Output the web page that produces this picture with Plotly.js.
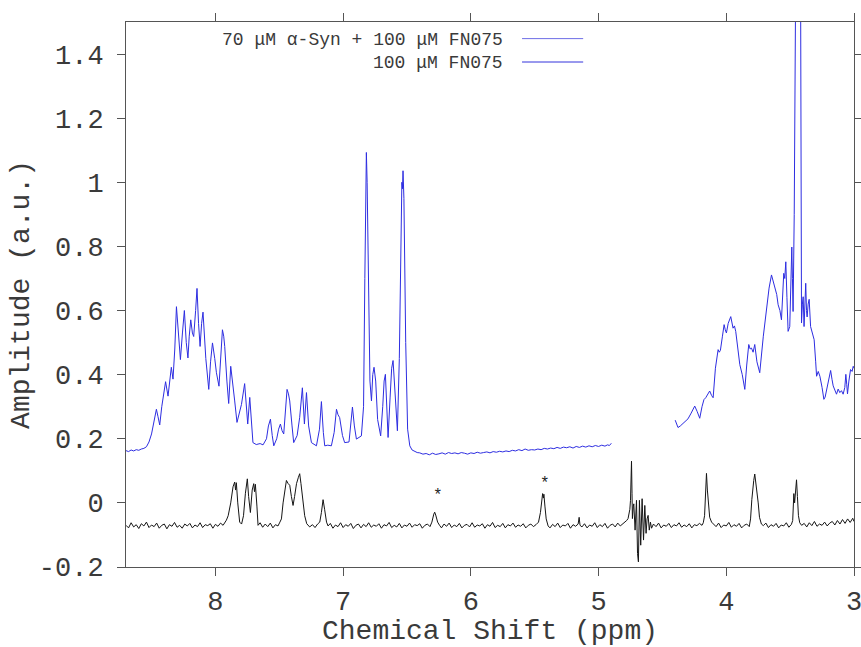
<!DOCTYPE html>
<html>
<head>
<meta charset="utf-8">
<script src="https://cdn.plot.ly/plotly-3.0.1.min.js"></script>
<style>html,body{margin:0;padding:0;background:#fff;}#chart{width:861px;height:647px;}</style>
</head>
<body>
<div id="chart"></div>
<script>
// ---- data: [chemical shift (ppm), amplitude (a.u.)] ----
const blueLabel = "70 \u03bcM \u03b1-Syn + 100 \u03bcM FN075";
const blackLabel = "100 \u03bcM FN075";

const blueSpectrum = [
 [8.70,0.163],[8.68,0.160],[8.66,0.165],[8.64,0.162],[8.62,0.166],[8.60,0.164],[8.58,0.168],[8.56,0.170],
 [8.54,0.175],[8.52,0.190],[8.50,0.215],[8.48,0.255],[8.462,0.292],[8.45,0.270],[8.436,0.243],[8.42,0.300],
 [8.40,0.360],[8.39,0.378],[8.371,0.333],[8.355,0.400],[8.345,0.423],[8.332,0.386],[8.318,0.480],[8.305,0.612],
 [8.29,0.520],[8.274,0.447],[8.258,0.530],[8.243,0.600],[8.228,0.500],[8.215,0.452],[8.205,0.520],[8.193,0.571],
 [8.18,0.530],[8.170,0.519],[8.155,0.600],[8.144,0.669],[8.132,0.560],[8.12,0.488],[8.108,0.560],[8.097,0.595],
 [8.075,0.450],[8.052,0.354],[8.038,0.440],[8.023,0.499],[8.005,0.450],[7.992,0.406],[7.972,0.364],[7.958,0.460],
 [7.945,0.540],[7.935,0.520],[7.927,0.488],[7.91,0.380],[7.896,0.310],[7.880,0.426],[7.865,0.380],[7.849,0.318],
 [7.831,0.251],[7.81,0.280],[7.796,0.307],[7.771,0.372],[7.76,0.300],[7.747,0.246],[7.731,0.329],[7.72,0.250],
 [7.706,0.188],[7.68,0.182],[7.65,0.185],[7.627,0.181],[7.60,0.200],[7.585,0.240],[7.569,0.261],[7.555,0.210],
 [7.543,0.178],[7.52,0.200],[7.505,0.230],[7.491,0.246],[7.478,0.225],[7.465,0.215],[7.452,0.300],[7.439,0.354],
 [7.428,0.340],[7.418,0.318],[7.40,0.240],[7.387,0.188],[7.36,0.210],[7.34,0.267],[7.319,0.359],[7.303,0.246],
 [7.287,0.344],[7.27,0.240],[7.248,0.188],[7.209,0.178],[7.185,0.230],[7.170,0.316],[7.155,0.220],[7.144,0.178],
 [7.12,0.180],[7.092,0.178],[7.07,0.220],[7.052,0.292],[7.040,0.275],[7.027,0.266],[7.005,0.210],[6.988,0.188],
 [6.954,0.190],[6.94,0.240],[6.927,0.299],[6.912,0.240],[6.896,0.199],[6.857,0.209],[6.840,0.300],[6.83,0.700],
 [6.822,1.05],[6.818,1.093],[6.812,1.00],[6.80,0.600],[6.79,0.380],[6.778,0.318],[6.768,0.400],[6.758,0.423],
 [6.745,0.380],[6.73,0.260],[6.706,0.209],[6.69,0.300],[6.679,0.380],[6.669,0.401],[6.66,0.300],[6.648,0.204],
 [6.632,0.330],[6.62,0.420],[6.609,0.444],[6.595,0.350],[6.575,0.225],[6.56,0.450],[6.548,0.850],[6.54,1.00],
 [6.535,0.980],[6.531,1.036],[6.524,0.950],[6.51,0.500],[6.495,0.230],[6.478,0.178],[6.46,0.165],[6.44,0.160],
 [6.42,0.157],[6.40,0.156],[6.375,0.152],[6.35,0.154],[6.325,0.150],[6.30,0.155],[6.275,0.151],[6.25,0.153],
 [6.225,0.156],[6.20,0.152],[6.175,0.157],[6.15,0.154],[6.125,0.156],[6.10,0.153],[6.075,0.157],[6.05,0.155],
 [6.025,0.152],[6.00,0.156],[5.975,0.154],[5.95,0.158],[5.925,0.155],[5.90,0.157],[5.875,0.159],[5.85,0.156],
 [5.825,0.160],[5.80,0.158],[5.775,0.161],[5.75,0.159],[5.725,0.162],[5.70,0.160],[5.675,0.164],[5.65,0.162],
 [5.625,0.166],[5.60,0.163],[5.575,0.168],[5.55,0.164],[5.525,0.166],[5.50,0.165],[5.475,0.168],[5.45,0.166],
 [5.425,0.170],[5.40,0.168],[5.375,0.171],[5.35,0.169],[5.325,0.173],[5.30,0.170],[5.275,0.174],[5.25,0.172],
 [5.225,0.175],[5.20,0.171],[5.175,0.176],[5.15,0.173],[5.125,0.177],[5.10,0.174],[5.075,0.178],[5.05,0.175],
 [5.025,0.179],[5.00,0.176],[4.975,0.180],[4.95,0.177],[4.93,0.181],[4.915,0.179],[4.90,0.186],
 [4.65,null],
 [4.40,0.258],[4.388,0.244],[4.378,0.235],[4.36,0.240],[4.345,0.245],[4.325,0.251],[4.30,0.262],[4.275,0.280],
 [4.26,0.290],[4.247,0.302],[4.228,0.285],[4.208,0.264],[4.19,0.300],[4.175,0.322],[4.161,0.328],[4.145,0.340],
 [4.130,0.349],[4.115,0.335],[4.103,0.328],[4.085,0.420],[4.064,0.478],[4.055,0.470],[4.046,0.476],[4.030,0.520],
 [4.017,0.556],[4.008,0.540],[3.999,0.530],[3.985,0.560],[3.965,0.581],[3.947,0.545],[3.936,0.552],[3.926,0.535],
 [3.91,0.480],[3.894,0.431],[3.875,0.400],[3.855,0.354],[3.84,0.430],[3.824,0.494],[3.813,0.480],[3.803,0.483],
 [3.790,0.470],[3.777,0.494],[3.76,0.440],[3.738,0.406],[3.71,0.520],[3.685,0.612],[3.665,0.670],[3.646,0.711],
 [3.632,0.690],[3.620,0.680],[3.605,0.650],[3.594,0.618],[3.580,0.600],[3.568,0.571],[3.558,0.650],[3.550,0.716],
 [3.542,0.700],[3.534,0.752],[3.525,0.640],[3.516,0.535],[3.503,0.550],[3.495,0.700],[3.487,0.798],[3.482,0.700],
 [3.477,0.597],[3.468,0.900],[3.462,1.800],[3.455,2.600],[3.44,2.700],[3.424,2.500],[3.418,1.600],[3.414,0.800],
 [3.411,0.561],[3.404,0.620],[3.398,0.643],[3.391,0.550],[3.384,0.640],[3.378,0.685],[3.372,0.600],[3.367,0.580],
 [3.359,0.620],[3.351,0.635],[3.340,0.550],[3.325,0.530],[3.312,0.509],[3.300,0.440],[3.293,0.395],[3.280,0.410],
 [3.267,0.395],[3.250,0.360],[3.236,0.323],[3.226,0.330],[3.215,0.349],[3.198,0.380],[3.183,0.413],[3.172,0.385],
 [3.163,0.365],[3.150,0.352],[3.137,0.339],[3.124,0.355],[3.111,0.344],[3.098,0.350],[3.085,0.339],[3.072,0.360],
 [3.064,0.401],[3.057,0.370],[3.051,0.340],[3.040,0.380],[3.027,0.416],[3.015,0.410],[3.006,0.426],[3.00,0.420]
];

const blackSpectrum = [
 [8.70,-0.070],[8.68,-0.078],[8.66,-0.062],[8.64,-0.075],[8.62,-0.068],[8.60,-0.080],[8.58,-0.065],[8.56,-0.072],
 [8.54,-0.060],[8.52,-0.077],[8.50,-0.069],[8.48,-0.074],[8.46,-0.063],[8.44,-0.079],[8.42,-0.070],[8.40,-0.066],
 [8.38,-0.081],[8.36,-0.068],[8.34,-0.073],[8.32,-0.061],[8.30,-0.076],[8.28,-0.070],[8.26,-0.079],[8.24,-0.066],
 [8.22,-0.072],[8.20,-0.064],[8.18,-0.078],[8.16,-0.069],[8.14,-0.074],[8.12,-0.062],[8.10,-0.077],[8.08,-0.068],
 [8.06,-0.071],[8.04,-0.065],[8.02,-0.079],[8.00,-0.067],[7.98,-0.073],[7.96,-0.063],[7.94,-0.070],[7.925,-0.060],
 [7.914,-0.054],[7.90,-0.040],[7.88,0.000],[7.862,0.050],[7.849,0.065],[7.842,0.040],[7.836,0.063],[7.825,0.000],
 [7.810,-0.060],[7.795,-0.066],[7.78,-0.040],[7.765,0.030],[7.750,0.075],[7.740,0.020],[7.726,-0.030],[7.712,0.040],
 [7.700,0.060],[7.694,0.035],[7.687,0.058],[7.675,-0.010],[7.666,-0.070],[7.65,-0.062],[7.63,-0.076],[7.61,-0.066],
 [7.59,-0.074],[7.57,-0.063],[7.55,-0.078],[7.53,-0.068],[7.51,-0.072],[7.495,-0.060],[7.483,-0.050],[7.47,0.000],
 [7.455,0.050],[7.444,0.070],[7.43,0.060],[7.418,0.055],[7.405,0.020],[7.392,-0.008],[7.38,0.020],[7.365,0.060],
 [7.350,0.080],[7.340,0.091],[7.33,0.060],[7.315,0.000],[7.301,-0.040],[7.285,-0.065],[7.262,-0.075],[7.24,-0.068],
 [7.22,-0.077],[7.20,-0.066],[7.183,-0.060],[7.17,-0.030],[7.157,0.010],[7.145,-0.020],[7.13,-0.060],[7.118,-0.072],
 [7.10,-0.064],[7.08,-0.079],[7.06,-0.069],[7.04,-0.074],[7.02,-0.062],[7.00,-0.077],[6.98,-0.068],[6.96,-0.073],
 [6.94,-0.064],[6.92,-0.080],[6.90,-0.070],[6.88,-0.066],[6.86,-0.078],[6.84,-0.067],[6.82,-0.074],[6.80,-0.062],
 [6.78,-0.076],[6.76,-0.069],[6.74,-0.073],[6.72,-0.065],[6.70,-0.079],[6.68,-0.068],[6.66,-0.072],[6.64,-0.061],
 [6.62,-0.077],[6.60,-0.070],[6.58,-0.075],[6.56,-0.064],[6.54,-0.078],[6.52,-0.069],[6.50,-0.073],[6.48,-0.063],
 [6.46,-0.076],[6.44,-0.068],[6.42,-0.071],[6.40,-0.065],[6.38,-0.079],[6.36,-0.070],[6.34,-0.066],[6.32,-0.074],
 [6.305,-0.060],[6.29,-0.035],[6.283,-0.029],[6.275,-0.038],[6.26,-0.060],[6.245,-0.070],[6.23,-0.078],[6.21,-0.066],
 [6.19,-0.073],[6.17,-0.063],[6.15,-0.077],[6.13,-0.069],[6.11,-0.074],[6.09,-0.064],[6.07,-0.078],[6.05,-0.070],
 [6.03,-0.067],[6.01,-0.075],[5.99,-0.062],[5.97,-0.076],[5.95,-0.069],[5.93,-0.072],[5.91,-0.065],[5.89,-0.079],
 [5.87,-0.068],[5.85,-0.073],[5.83,-0.061],[5.81,-0.077],[5.79,-0.070],[5.77,-0.074],[5.75,-0.064],[5.73,-0.078],
 [5.71,-0.068],[5.69,-0.072],[5.67,-0.063],[5.65,-0.076],[5.63,-0.069],[5.61,-0.073],[5.59,-0.065],[5.57,-0.078],
 [5.55,-0.070],[5.53,-0.066],[5.51,-0.074],[5.49,-0.068],[5.47,-0.060],[5.455,-0.030],[5.445,0.020],[5.438,0.029],
 [5.432,0.015],[5.428,0.027],[5.42,-0.010],[5.41,-0.050],[5.395,-0.072],[5.38,-0.078],[5.36,-0.067],[5.34,-0.074],
 [5.32,-0.063],[5.30,-0.077],[5.28,-0.069],[5.26,-0.072],[5.24,-0.064],[5.22,-0.079],[5.20,-0.068],[5.18,-0.073],
 [5.16,-0.066],[5.152,-0.045],[5.145,-0.070],[5.13,-0.075],[5.11,-0.065],[5.09,-0.078],[5.07,-0.069],[5.05,-0.073],
 [5.03,-0.062],[5.01,-0.077],[4.99,-0.068],[4.97,-0.074],[4.95,-0.064],[4.93,-0.079],[4.91,-0.070],[4.89,-0.066],
 [4.87,-0.075],[4.85,-0.063],[4.83,-0.072],[4.81,-0.066],[4.79,-0.060],[4.78,-0.055],[4.769,-0.049],[4.755,-0.020],
 [4.750,0.008],[4.745,0.060],[4.742,0.130],[4.738,0.030],[4.735,-0.049],[4.728,-0.010],[4.724,-0.003],[4.714,-0.085],
 [4.703,0.008],[4.695,-0.158],[4.688,-0.184],[4.680,0.008],[4.670,-0.132],[4.659,0.013],[4.648,-0.116],[4.638,-0.008],
 [4.628,-0.095],[4.620,-0.050],[4.612,-0.039],[4.603,-0.085],[4.594,-0.060],[4.585,-0.079],[4.57,-0.066],[4.55,-0.074],
 [4.53,-0.063],[4.51,-0.078],[4.49,-0.069],[4.47,-0.073],[4.45,-0.064],[4.43,-0.077],[4.41,-0.068],[4.39,-0.072],
 [4.37,-0.062],[4.35,-0.076],[4.33,-0.069],[4.31,-0.074],[4.29,-0.065],[4.27,-0.078],[4.25,-0.068],[4.23,-0.071],
 [4.21,-0.064],[4.19,-0.070],[4.18,-0.062],[4.17,-0.040],[4.162,0.030],[4.155,0.092],[4.148,0.040],[4.14,-0.010],
 [4.13,-0.045],[4.115,-0.060],[4.10,-0.067],[4.08,-0.074],[4.06,-0.063],[4.04,-0.077],[4.02,-0.069],[4.00,-0.072],
 [3.98,-0.061],[3.96,-0.076],[3.94,-0.068],[3.92,-0.073],[3.90,-0.064],[3.88,-0.078],[3.86,-0.070],[3.84,-0.066],
 [3.82,-0.074],[3.81,-0.050],[3.80,0.010],[3.795,0.037],[3.785,0.070],[3.777,0.090],[3.768,0.060],[3.759,0.045],
 [3.75,0.000],[3.74,-0.045],[3.725,-0.066],[3.71,-0.071],[3.69,-0.063],[3.67,-0.077],[3.65,-0.068],[3.63,-0.073],
 [3.61,-0.064],[3.59,-0.078],[3.57,-0.069],[3.55,-0.072],[3.53,-0.062],[3.51,-0.076],[3.49,-0.067],[3.48,-0.055],
 [3.471,0.029],[3.465,0.000],[3.458,0.040],[3.450,0.072],[3.443,0.020],[3.435,-0.040],[3.425,-0.062],[3.41,-0.070],
 [3.39,-0.064],[3.37,-0.075],[3.35,-0.062],[3.33,-0.071],[3.31,-0.058],[3.29,-0.073],[3.27,-0.066],[3.25,-0.070],
 [3.23,-0.060],[3.21,-0.072],[3.19,-0.063],[3.17,-0.058],[3.15,-0.069],[3.13,-0.055],[3.11,-0.066],[3.09,-0.052],
 [3.07,-0.064],[3.05,-0.050],[3.03,-0.061],[3.01,-0.048],[3.00,-0.058]
];

// marked peaks (asterisks)
const starShift = [6.257, 5.419];
const starAmp = [0.020, 0.058];

const xTickVals = [8, 7, 6, 5, 4, 3];
const xTickText = ["8", "7", "6", "5", "4", "3"];
const yTickVals = [-0.2, 0, 0.2, 0.4, 0.6, 0.8, 1, 1.2, 1.4];
const yTickText = ["-0.2", "0", "0.2", "0.4", "0.6", "0.8", "1", "1.2", "1.4"];

// ---- drawing ----
const MONO = "Liberation Mono, Courier New, monospace";
const AXC = "#555";
const TXT = "#3a3a3a";

const traces = [
  {
    type: "scatter", mode: "lines", name: blueLabel,
    x: blueSpectrum.map(p => p[0]), y: blueSpectrum.map(p => p[1]),
    line: {color: "rgb(45,45,225)", width: 1}, connectgaps: false, hoverinfo: "skip"
  },
  {
    type: "scatter", mode: "lines", name: blackLabel,
    x: blackSpectrum.map(p => p[0]), y: blackSpectrum.map(p => p[1]),
    line: {color: "#151515", width: 1}, hoverinfo: "skip"
  }
];

const annotations = starShift.map((s, i) => ({
  x: s, y: starAmp[i], xref: "x", yref: "y", text: "*", showarrow: false,
  font: {family: MONO, size: 16, color: "#222"}, yanchor: "middle", xanchor: "center"
}));
annotations.push(
  {xref: "paper", yref: "paper", x: 0.5206, y: 0.9664, text: blueLabel, showarrow: false,
   xanchor: "right", yanchor: "middle", font: {family: MONO, size: 18, color: TXT}},
  {xref: "paper", yref: "paper", x: 0.5206, y: 0.9248, text: blackLabel, showarrow: false,
   xanchor: "right", yanchor: "middle", font: {family: MONO, size: 18, color: TXT}}
);

const shapes = [
  {type: "line", xref: "paper", yref: "paper", x0: 0.544, x1: 0.628, y0: 0.9695, y1: 0.9695,
   line: {color: "rgb(110,110,230)", width: 1}},
  {type: "line", xref: "paper", yref: "paper", x0: 0.544, x1: 0.628, y0: 0.9266, y1: 0.9266,
   line: {color: "rgb(50,50,220)", width: 1}}
];

const layout = {
  width: 861, height: 647,
  margin: {l: 126, r: 7, t: 22, b: 80, pad: 0},
  paper_bgcolor: "#fff", plot_bgcolor: "#fff",
  showlegend: false,
  xaxis: {
    range: [8.7, 3.0], autorange: false,
    tickmode: "array", tickvals: xTickVals, ticktext: xTickText,
    ticks: "outside", ticklen: 8, tickcolor: AXC, tickwidth: 1,
    showline: true, linecolor: AXC, linewidth: 1, mirror: "ticks",
    showgrid: false, zeroline: false,
    tickfont: {family: MONO, size: 27, color: TXT},
    ticklabelstandoff: 2, ticklabeloverflow: "allow",
    title: {text: "Chemical Shift (ppm)", font: {family: MONO, size: 28, color: TXT}, standoff: 22}
  },
  yaxis: {
    range: [-0.2, 1.5], autorange: false,
    tickmode: "array", tickvals: yTickVals, ticktext: yTickText,
    ticks: "outside", ticklen: 8, tickcolor: AXC, tickwidth: 1,
    showline: true, linecolor: AXC, linewidth: 1, mirror: "ticks",
    showgrid: false, zeroline: false,
    tickfont: {family: MONO, size: 27, color: TXT},
    ticklabelstandoff: 8,
    title: {text: "Amplitude (a.u.)", font: {family: MONO, size: 28, color: TXT}, standoff: 0}
  },
  annotations: annotations,
  shapes: shapes
};

Plotly.newPlot("chart", traces, layout, {staticPlot: true, displayModeBar: false});
</script>
</body>
</html>
